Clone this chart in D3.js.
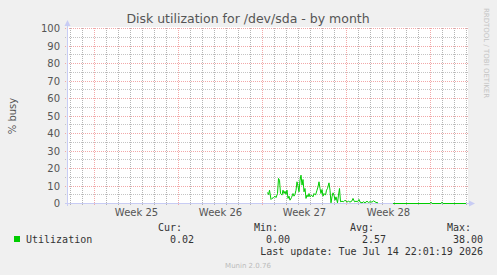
<!DOCTYPE html>
<html>
<head>
<meta charset="utf-8">
<script src="https://cdn.jsdelivr.net/npm/d3@7"></script>
<style>
  html, body { margin: 0; padding: 0; background: #f0f0f0; }
  svg { display: block; }
  text { font-family: "DejaVu Sans", sans-serif; }
  .mono { font-family: "DejaVu Sans Mono", monospace; }
</style>
</head>
<body>
<div id="chart"></div>
<script>
// hours after Mon Jun 29 00:00 (UTC) and % busy
const sampleHours = [
  10, 12, 14, 17, 19, 22, 25, 27, 30, 32, 34, 36, 39, 41, 43, 45, 47, 49, 51, 53,
  55, 58, 61, 63, 65, 67, 69, 71, 73, 75, 77, 79, 81, 83, 85, 87, 89, 91, 93, 95,
  98, 101, 103, 106, 109, 111, 113, 115, 117, 119, 121, 123, 126, 128, 130, 133, 135, 137, 139, 141,
  143, 145, 147, 150, 152, 154, 156, 159, 162, 165, 169, 172, 175, 179, 181, 184, 187, 190, 193, 195,
  199, 202, 205, 209, 212, 215, 219, 222, 225, 227, 231,
  245,
  261, 335, 337, 339, 357, 359, 361, 407
];
const utilization = [
  6.3, 5.1, 7.6, 2.3, 2.9, 3.4, 4.2, 3.4, 5.7, 14.3, 13.3, 5.7, 4.8, 7.6, 5.7, 7.0, 5.3, 7.6, 2.9, 4.2,
  1.9, 3.4, 5.7, 4.2, 5.3, 7.6, 12.4, 9.9, 6.7, 13.3, 16.2, 10.5, 13.7, 6.7, 8.6, 2.9, 4.8, 3.8, 5.7, 3.8,
  4.8, 3.8, 5.7, 4.8, 7.6, 9.5, 12.4, 8.6, 5.7, 8.0, 4.2, 5.7, 4.8, 7.6, 8.6, 11.8, 7.6, 0.4, 3.8, 6.1,
  4.8, 1.9, 3.8, 0.4, 4.8, 8.6, 1.0, 1.3, 1.0, 1.9, 0.8, 1.3, 0.8, 1.5, 2.9, 1.0, 1.3, 1.0, 2.3, 0.8,
  0.4, 1.0, 0.4, 1.3, 0.6, 1.0, 0.8, 1.5, 1.0, 0.6, 0.4,
  null,
  0, 0, 0.8, 0, 0, 0.8, 0, 0
];
const yTicks = [0, 10, 20, 30, 40, 50, 60, 70, 80, 90, 100];
const legendHeads = ["Cur:", "Min:", "Avg:", "Max:"];
const legendValues = ["0.02", "0.00", "2.57", "38.00"];

const W = 497, H = 275;
const plot = { left: 67, right: 467, top: 28, bottom: 203 };
const t0 = new Date(Date.UTC(2026, 5, 12, 18));
const t1 = new Date(Date.UTC(2026, 6, 16, 2));
const dataOrigin = Date.UTC(2026, 5, 29);

const svg = d3.select("#chart").append("svg").attr("width", W).attr("height", H);

const x = d3.scaleUtc().domain([t0, t1]).range([plot.left + 0.5, plot.right + 0.5]);
const y = d3.scaleLinear().domain([0, 100]).range([plot.bottom + 0.5, plot.top + 0.5]);

svg.append("rect")
  .attr("x", plot.left).attr("y", plot.top - 1)
  .attr("width", plot.right - plot.left + 1).attr("height", plot.bottom - plot.top + 1)
  .attr("fill", "#fff");

// grid
const days = d3.utcDay.range(t0, t1).filter((d) => d.getUTCDay() !== 1);
const mondays = d3.utcMonday.range(t0, t1);
const minorY = d3.range(5, 100, 10);

const vLine = (g, data, col) => g.append("g").selectAll("line").data(data).join("line")
  .attr("x1", (d) => Math.floor(x(d)) + 0.5).attr("x2", (d) => Math.floor(x(d)) + 0.5)
  .attr("y1", plot.top).attr("y2", plot.bottom + 3)
  .attr("stroke", col).attr("stroke-dasharray", "1,1");
const hLine = (g, data, col) => g.append("g").selectAll("line").data(data).join("line")
  .attr("x1", plot.left - 2).attr("x2", plot.right + 1)
  .attr("y1", (d) => Math.floor(y(d)) + 0.5).attr("y2", (d) => Math.floor(y(d)) + 0.5)
  .attr("stroke", col).attr("stroke-dasharray", "1,1");

const grid = svg.append("g").attr("fill", "none");
vLine(grid, days, "#b4b4b4");
hLine(grid, minorY, "#c4c4c4");
vLine(grid, mondays, "#f2a8a8");
hLine(grid, yTicks.slice(1), "#f2a8a8");

// axis lines and arrows
const axisCol = "#c8ccf4";
svg.append("line").attr("x1", plot.left + 0.5).attr("x2", plot.left + 0.5)
  .attr("y1", plot.bottom + 3).attr("y2", plot.top - 4).attr("stroke", axisCol);
svg.append("line").attr("x1", plot.left - 2).attr("x2", plot.right + 3)
  .attr("y1", plot.bottom + 0.5).attr("y2", plot.bottom + 0.5).attr("stroke", axisCol);
svg.append("path")
  .attr("d", `M${plot.left - 2.5},${plot.top - 2} L${plot.left + 0.5},${plot.top - 8} L${plot.left + 3.5},${plot.top - 2} Z`)
  .attr("fill", axisCol);
svg.append("path")
  .attr("d", `M${plot.right + 2},${plot.bottom - 2.5} L${plot.right + 8},${plot.bottom + 0.5} L${plot.right + 2},${plot.bottom + 3.5} Z`)
  .attr("fill", axisCol);

// data line
const line = d3.line()
  .defined((d, i) => utilization[i] !== null)
  .x((d) => x(new Date(dataOrigin + d * 3600e3)))
  .y((d, i) => y(utilization[i]));
svg.append("path")
  .datum(sampleHours)
  .attr("d", line)
  .attr("fill", "none")
  .attr("stroke", "#00cc00")
  .attr("stroke-width", 1);

// y labels
svg.append("g").selectAll("text").data(yTicks).join("text")
  .attr("x", plot.left - 7).attr("y", (d) => y(d) + 3.5)
  .attr("text-anchor", "end").attr("font-size", 10).attr("fill", "#555")
  .text((d) => d);

// week labels
const weekFmt = d3.utcFormat("%V");
const weeks = d3.utcMonday.range(d3.utcMonday.offset(t0, -1), t1)
  .map((m) => ({ m, c: new Date(+m + 3.5 * 864e5) }))
  .filter((w) => w.c > t0 && w.c < t1);
svg.append("g").selectAll("text").data(weeks).join("text")
  .attr("x", (d) => x(d.c)).attr("y", 216)
  .attr("text-anchor", "middle").attr("font-size", 10).attr("fill", "#555")
  .text((d) => "Week " + +weekFmt(d.m));

// titles
svg.append("text").attr("x", 248).attr("y", 23)
  .attr("text-anchor", "middle").attr("font-size", 12.5).attr("fill", "#555")
  .text("Disk utilization for /dev/sda - by month");
svg.append("text").attr("transform", "translate(16,116) rotate(-90)")
  .attr("text-anchor", "middle").attr("font-size", 10).attr("fill", "#555")
  .text("% busy");
svg.append("text").attr("transform", "translate(484,53) rotate(90)")
  .attr("text-anchor", "middle").attr("font-size", 7).attr("fill", "#c4c4c4")
  .text("RRDTOOL / TOBI OETIKER");

// legend
svg.append("rect").attr("x", 14).attr("y", 236).attr("width", 6).attr("height", 6).attr("fill", "#00cc00");
svg.append("text").attr("class", "mono").attr("x", 26).attr("y", 243)
  .attr("font-size", 10).attr("fill", "#333").text("Utilization");
const colRight = [194, 290, 386, 483];
svg.append("g").selectAll("text").data(legendHeads).join("text")
  .attr("class", "mono").attr("x", (d, i) => colRight[i] - 12).attr("y", 231)
  .attr("text-anchor", "end").attr("font-size", 10).attr("fill", "#333").text((d) => d);
svg.append("g").selectAll("text").data(legendValues).join("text")
  .attr("class", "mono").attr("x", (d, i) => colRight[i]).attr("y", 243)
  .attr("text-anchor", "end").attr("font-size", 10).attr("fill", "#333").text((d) => d);
svg.append("text").attr("class", "mono").attr("x", 483).attr("y", 255)
  .attr("text-anchor", "end").attr("font-size", 10).attr("fill", "#333")
  .text("Last update: Tue Jul 14 22:01:19 2026");
svg.append("text").attr("x", 248).attr("y", 268)
  .attr("text-anchor", "middle").attr("font-size", 7).attr("fill", "#bbb")
  .text("Munin 2.0.76");
</script>
</body>
</html>
